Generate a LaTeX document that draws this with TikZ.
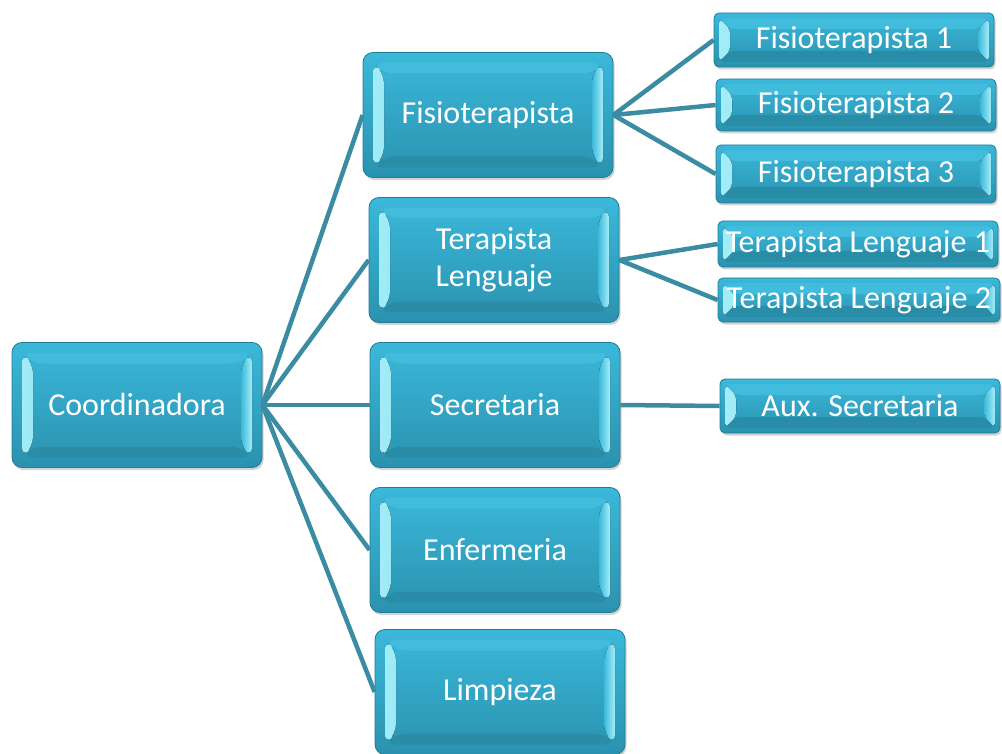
\documentclass[tikz,border=0pt]{standalone}
\usepackage{fontspec}
\setmainfont{Carlito}
\usetikzlibrary{shadows}

\definecolor{boxtop}{HTML}{3BB8DA}
\definecolor{boxbot}{HTML}{2A92AF}
\definecolor{boxline}{HTML}{237C95}
\definecolor{bevhi}{HTML}{A5EEF8}
\definecolor{bevtop}{HTML}{42BCDC}
\definecolor{bevbot}{HTML}{2A8DA8}
\definecolor{linkc}{HTML}{3B8CA3}

\begin{document}
\begin{tikzpicture}[
x=1pt,y=-1pt,
every node/.style={
draw=boxline,
line width=0.8pt,
top color=boxtop,
bottom color=boxbot,
text=white,
align=center,
inner sep=0pt,
font=\fontsize{32}{37}\selectfont,
drop shadow={opacity=0.35,shadow xshift=1.5pt,shadow yshift=-2.5pt}
},
bevel/.style 2 args={
path picture={
\fill[left color=bevhi,right color=boxtop]
([shift={(#1pt,-#1pt)}]path picture bounding box.north west)
-- ([shift={(#1pt+#2pt,-#1pt-#2pt)}]path picture bounding box.north west)
-- ([shift={(#1pt+#2pt,#1pt+#2pt)}]path picture bounding box.south west)
-- ([shift={(#1pt,#1pt)}]path picture bounding box.south west) -- cycle;
\fill[left color=boxtop,right color=bevhi]
([shift={(-#1pt,-#1pt)}]path picture bounding box.north east)
-- ([shift={(-#1pt-#2pt,-#1pt-#2pt)}]path picture bounding box.north east)
-- ([shift={(-#1pt-#2pt,#1pt+#2pt)}]path picture bounding box.south east)
-- ([shift={(-#1pt,#1pt)}]path picture bounding box.south east) -- cycle;
\fill[bevtop]
([shift={(#1pt,-#1pt)}]path picture bounding box.north west)
-- ([shift={(#1pt+#2pt,-#1pt-#2pt)}]path picture bounding box.north west)
-- ([shift={(-#1pt-#2pt,-#1pt-#2pt)}]path picture bounding box.north east)
-- ([shift={(-#1pt,-#1pt)}]path picture bounding box.north east) -- cycle;
\fill[bevbot]
([shift={(#1pt,#1pt)}]path picture bounding box.south west)
-- ([shift={(#1pt+#2pt,#1pt+#2pt)}]path picture bounding box.south west)
-- ([shift={(-#1pt-#2pt,#1pt+#2pt)}]path picture bounding box.south east)
-- ([shift={(-#1pt,#1pt)}]path picture bounding box.south east) -- cycle;
}
},
big/.style={minimum width=250pt,minimum height=125pt,rounded corners=10pt,bevel={10}{11}},
small/.style={minimum width=280pt,minimum height=54pt,rounded corners=5pt,bevel={5}{11}},
link/.style={draw=linkc,line width=4.5pt}
]

\useasboundingbox (0,0) rectangle (1002,754);

\node[big] (C) at (137,405) {Coordinadora};

\node[big] (F) at (488,115) {Fisioterapista};
\node[big] (T) at (494,260) {Terapista\\Lenguaje};
\node[big] (S) at (495,405) {Secretaria};
\node[big] (E) at (495,550) {Enfermeria};
\node[big] (L) at (500,692) {Limpieza};

\node[small] (F1) at (854,40) {Fisioterapista 1};
\node[small,minimum height=52pt] (F2) at (856,105) {Fisioterapista 2};
\node[small,minimum height=58pt] (F3) at (856,174) {Fisioterapista 3};
\node[small,minimum height=46pt] (T1) at (858,244) {Terapista Lenguaje 1};
\node[small,minimum height=44pt,minimum width=282pt] (T2) at (859,300) {Terapista Lenguaje 2};
\node[small] (S1) at (860,406) {Aux. Secretaria};

\draw[link] (C.east) -- (F.west);
\draw[link] (C.east) -- (T.west);
\draw[link] (C.east) -- (S.west);
\draw[link] (C.east) -- (E.west);
\draw[link] (C.east) -- (L.west);

\draw[link] (F.east) -- (F1.west);
\draw[link] (F.east) -- (F2.west);
\draw[link] (F.east) -- (F3.west);
\draw[link] (T.east) -- (T1.west);
\draw[link] (T.east) -- (T2.west);
\draw[link] (S.east) -- (S1.west);

\end{tikzpicture}
\end{document}
